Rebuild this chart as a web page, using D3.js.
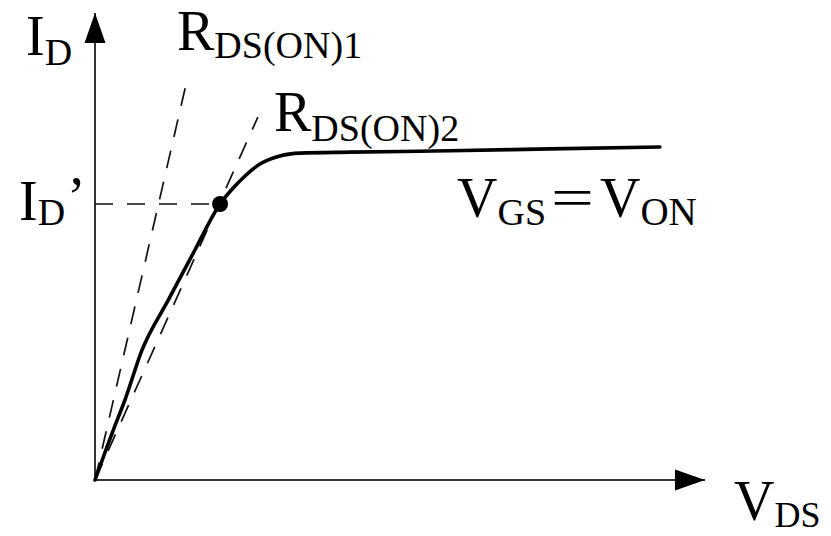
<!DOCTYPE html>
<html><head><meta charset="utf-8">
<script src="https://cdn.jsdelivr.net/npm/d3@7"></script>
<style>
html,body{margin:0;padding:0;background:#fff;}
svg{display:block;}
text{font-family:"Liberation Serif","Times New Roman",serif;fill:#000;}
</style>
</head><body>
<svg id="chart" width="831" height="536"></svg>
<script>
// MOSFET output characteristic I_D(V_DS) at V_GS = V_ON, arbitrary units
const vds = [0, 0.30, 0.49, 0.77, 1.20, 1.64, 2.05, 2.25, 2.46, 2.71, 3.03, 3.36, 4.18, 5.82, 7.46, 9.26];
const id  = [0, 1.07, 1.71, 2.78, 3.85, 4.93, 5.91, 6.23, 6.51, 6.77, 6.94, 7.00, 7.02, 7.05, 7.09, 7.13];
// Operating point (V_DS', I_D')
const opPoint = [2.05, 5.91];
// Far ends of the two R_DS(ON) lines, both drawn from the origin
const rdsEnds = [[1.52, 8.63], [2.67, 7.77]];
// Extent of the axes (arrow tips)
const axisMax = [10, 10];

const svg = d3.select("#chart");
const x = d3.scaleLinear().domain([0, axisMax[0]]).range([95, 705]);
const y = d3.scaleLinear().domain([0, axisMax[1]]).range([480, 13]);

// arrowhead for both axes
svg.append("defs").append("marker")
  .attr("id", "arrow")
  .attr("markerUnits", "userSpaceOnUse")
  .attr("markerWidth", 32).attr("markerHeight", 24)
  .attr("refX", 30).attr("refY", 11)
  .attr("orient", "auto")
  .append("path").attr("d", "M0,0.5L30,11L0,21.5Z").attr("fill", "#000");

const line = d3.line().x(d => x(d[0])).y(d => y(d[1]));

// axes
const axes = [[[0, 0], [axisMax[0], 0]], [[0, 0], [0, axisMax[1]]]];
svg.selectAll("path.axis").data(axes).join("path")
  .attr("class", "axis")
  .attr("d", line)
  .attr("fill", "none").attr("stroke", "#333").attr("stroke-width", 2)
  .attr("marker-end", "url(#arrow)");

// dashed guide lines: the two on-resistance slopes and the I_D' level
const dashed = rdsEnds.map(e => [[0, 0], e]).concat([[[0, opPoint[1]], opPoint]]);
svg.selectAll("path.guide").data(dashed).join("path")
  .attr("class", "guide")
  .attr("d", line)
  .attr("fill", "none").attr("stroke", "#111").attr("stroke-width", 1.7)
  .attr("stroke-dasharray", "18,14");

// characteristic curve
svg.append("path")
  .datum(vds.map((v, i) => [v, id[i]]))
  .attr("d", line.curve(d3.curveMonotoneX))
  .attr("fill", "none").attr("stroke", "#000").attr("stroke-width", 3.6)
  .attr("stroke-linejoin", "round").attr("stroke-linecap", "round");

// operating point
svg.append("circle")
  .attr("cx", x(opPoint[0])).attr("cy", y(opPoint[1]))
  .attr("r", 8).attr("fill", "#000");

// labels: main symbol with a subscript
function label(px, py, main, sub, subDy, subSize) {
  const t = svg.append("text").attr("x", px).attr("y", py).attr("font-size", 56);
  t.append("tspan").text(main);
  t.append("tspan").attr("font-size", subSize || 38).attr("dy", subDy).text(sub);
  return t;
}
label(26, 55, "I", "D", 10);
const idp = label(19, 220, "I", "D", 5);
idp.append("tspan").attr("dy", -9).attr("dx", 2).text("\u2019");
label(177, 50, "R", "DS(ON)1", 8);
label(274, 131, "R", "DS(ON)2", 10);
label(457, 217, "V", "GS", 8);
svg.append("text").attr("x", 551).attr("y", 216).attr("font-size", 54)
  .attr("textLength", 43).attr("lengthAdjust", "spacingAndGlyphs").text("=");
label(600, 217, "V", "ON", 8, 39);
label(734, 520, "V", "DS", 7, 36);
</script>
</body></html>
